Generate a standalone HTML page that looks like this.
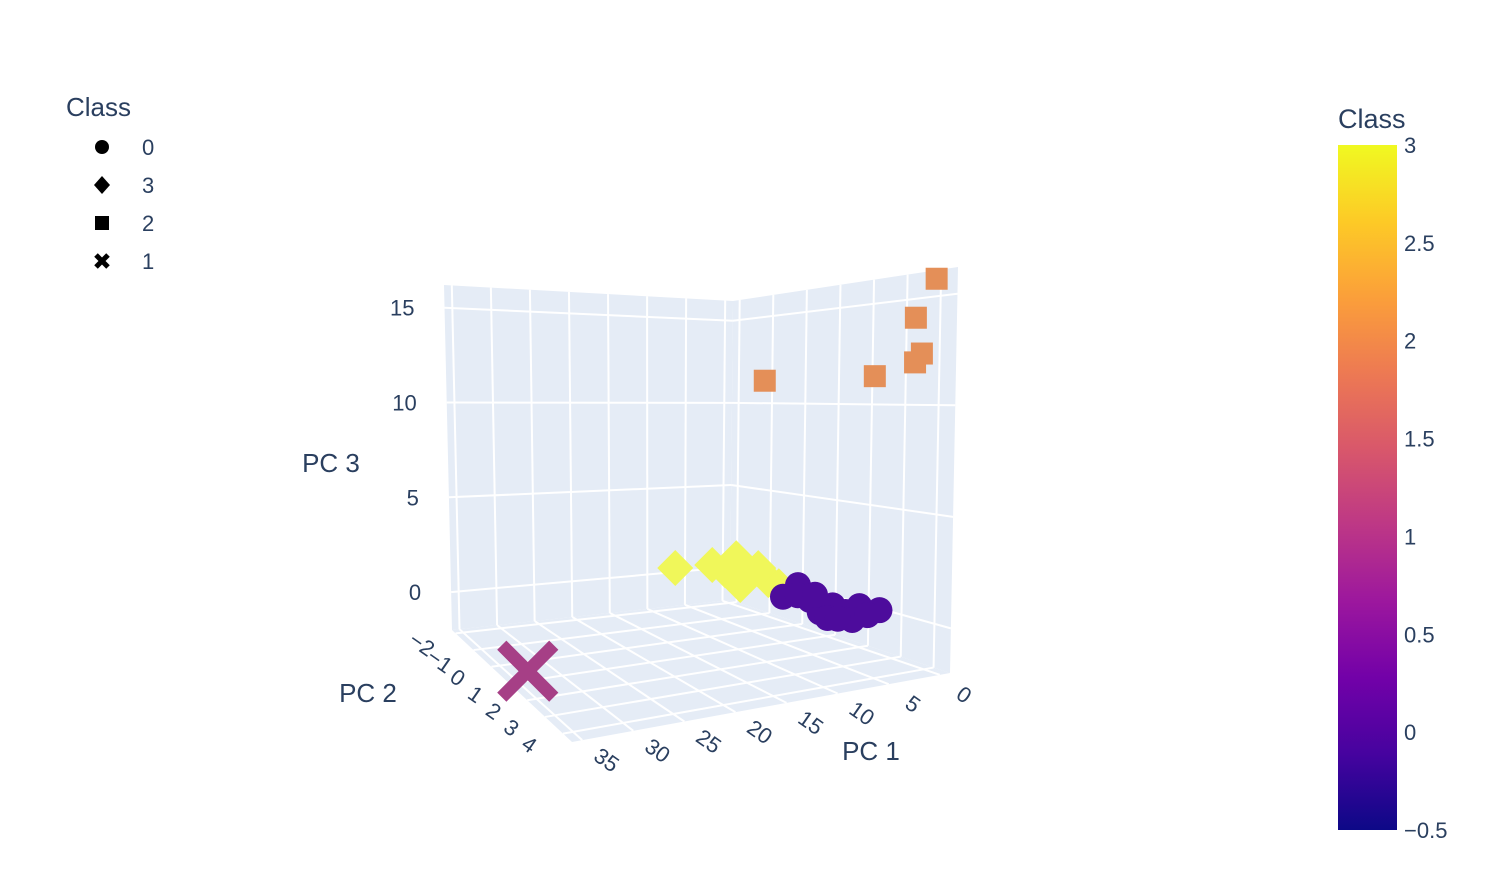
<!DOCTYPE html>
<html><head><meta charset="utf-8"><style>
body{margin:0;background:#fff;font-family:"Liberation Sans",sans-serif;}
svg text{font-family:"Liberation Sans",sans-serif;fill:#2a3f5f;}
</style></head><body>
<svg id="chart" width="1508" height="884" viewBox="0 0 1508 884">
<defs>
<linearGradient id="plasma" x1="0" y1="1" x2="0" y2="0">
<stop offset="0" stop-color="#0d0887"/><stop offset="0.111" stop-color="#46039f"/><stop offset="0.222" stop-color="#7201a8"/><stop offset="0.333" stop-color="#9c179e"/><stop offset="0.444" stop-color="#bd3786"/><stop offset="0.555" stop-color="#d8576b"/><stop offset="0.666" stop-color="#ed7953"/><stop offset="0.777" stop-color="#fb9f3a"/><stop offset="0.888" stop-color="#fdca26"/><stop offset="1" stop-color="#f0f921"/>
</linearGradient>
</defs>
<g id="scene"></g>
<g>
<text x="66" y="116" font-size="26">Class</text>
<g><circle cx="102" cy="147" r="7" fill="#000"/><text x="142" y="155" font-size="22">0</text></g>
<g><path d="M102 176 L110 185 L102 194 L94 185 Z" fill="#000"/><text x="142" y="193" font-size="22">3</text></g>
<g><rect x="95" y="216" width="14" height="14" fill="#000"/><text x="142" y="231" font-size="22">2</text></g>
<g><path d="M96 255 L108 267 M108 255 L96 267" stroke="#000" stroke-width="5"/><text x="142" y="269" font-size="22">1</text></g>
</g>
<g>
<text x="1338" y="128" font-size="27">Class</text>
<rect x="1338" y="145" width="59" height="685" fill="url(#plasma)"/>
<g id="cbticks"></g>
</g>
</svg>
<script>
const xTicks=[0,5,10,15,20,25,30,35];
const yTicks=[-2,-1,0,1,2,3,4];
const zTicks=[0,5,10,15];
const cbTicks=["3","2.5","2","1.5","1","0.5","0","\u22120.5"];
const cbVals=[3,2.5,2,1.5,1,0.5,0,-0.5];
const sqX=[-0.9,-0.9,-0.9,-0.9,-0.9,-0.9];
const sqY=[3.9,3.3,3.5,3.3,2.1,-1.2];
const sqZ=[15.8,14.1,12.4,12.0,11.4,11.3];
const ciX=[-0.9,-0.9,-0.9,-0.9,-0.9,-0.9,-0.9,-0.9,-0.9,-0.9,-0.9,-0.9,-0.9,-0.9];
const ciY=[-0.57,-0.12,0.25,0.55,0.94,1.33,1.75,2.36,0.79,1.54,2.0,-0.12,1.1,0.4];
const ciZ=[-0.82,0.06,-0.56,-1.05,-0.49,-0.64,-0.14,-0.06,-1.23,-0.94,-0.47,-0.49,-1.1,-0.2];
const diX=[6.3,1.4,-0.9,-0.3,-0.9,-0.9,-0.9,-0.9,-0.9];
const diY=[-2.2,-2.2,-2.0,-2.2,-1.78,-1.33,-1.87,-1.02,-0.7];
const diZ=[0.24,0.23,0.65,-0.16,-0.24,0.41,-0.88,-0.12,-0.3];
const crX=[35.5];
const crY=[1.8];
const crZ=[-0.93];

const X0=-1,X1=36,Y0=-2.2,Y1=4.5,Z0=-2,Z1=16.2;
const K={"000":[730,600],"001":[733,301],"010":[950,673],"011":[958,267],"100":[452,630],"101":[444,285],"110":[572,742],"111":[565,262]};
function P(x,y,z){
 const u=(x-X0)/(X1-X0),v=(y-Y0)/(Y1-Y0),w=(z-Z0)/(Z1-Z0);
 let sx=0,sy=0;
 for(const a of [0,1])for(const b of [0,1])for(const c of [0,1]){
  const wt=(a?u:1-u)*(b?v:1-v)*(c?w:1-w);const k=K[""+a+b+c];sx+=wt*k[0];sy+=wt*k[1];}
 return [sx,sy];
}
const NS="http://www.w3.org/2000/svg";
const scene=document.getElementById('scene');
function mk(tag,attrs,parent){const e=document.createElementNS(NS,tag);for(const k in attrs)e.setAttribute(k,attrs[k]);(parent||scene).appendChild(e);return e;}
function poly(pts){return pts.map(p=>p.join(',')).join(' ');}
let e;
e=mk('polygon',{points:poly([P(X0,Y0,Z0),P(X1,Y0,Z0),P(X1,Y0,Z1),P(X0,Y0,Z1)]),fill:'#e5ecf6'});


e=mk('polygon',{points:poly([P(X0,Y0,Z0),P(X0,Y1,Z0),P(X0,Y1,Z1),P(X0,Y0,Z1)]),fill:'#e5ecf6'});


e=mk('polygon',{points:poly([P(X0,Y0,Z0),P(X1,Y0,Z0),P(X1,Y1,Z0),P(X0,Y1,Z0)]),fill:'#e5ecf6'});


function line(a,b,name){const l=mk('line',{x1:a[0],y1:a[1],x2:b[0],y2:b[1],stroke:'#fff','stroke-width':2});
 
 }
xTicks.forEach(x=>{line(P(x,Y0,Z0),P(x,Y0,Z1),'gridline-x');line(P(x,Y0,Z0),P(x,Y1,Z0),'gridline-x-floor');});
yTicks.forEach(y=>{line(P(X0,y,Z0),P(X0,y,Z1),'gridline-y');line(P(X0,y,Z0),P(X1,y,Z0),'gridline-y-floor');});
zTicks.forEach(z=>{line(P(X0,Y0,z),P(X1,Y0,z),'gridline-z');line(P(X0,Y0,z),P(X0,Y1,z),'gridline-z-right');});
function txt(x,y,s,size,anchor,rot,name){const t=mk('text',{x:x,y:y,'font-size':size,'text-anchor':anchor||'middle'});
 if(rot)t.setAttribute('transform','rotate('+rot+' '+x+' '+y+')');t.textContent=s;
 
 return t;}
xTicks.forEach(x=>{const p=P(x,Y1,Z0);txt(p[0]+20,p[1]+26,String(x),22,'middle',35,'x-tick-label');});
yTicks.forEach(y=>{const p=P(X1,y,Z0);txt(p[0]-38,p[1]+17,String(y).replace('-','\u2212'),22,'middle',35,'y-tick-label');});
zTicks.forEach(z=>{const p=P(X1,Y0,z);txt(p[0]-30,p[1]+8,String(z),22,'end',0,'z-tick-label');});
txt(871,760,'PC 1',26,'middle',0,'x-axis-title');
txt(368,702,'PC 2',26,'middle',0,'y-axis-title');
txt(331,472,'PC 3',26,'middle',0,'z-axis-title');
sqX.forEach((x,i)=>{const p=P(x,sqY[i],sqZ[i]);const m=mk('rect',{x:p[0]-11,y:p[1]-11,width:22,height:22,fill:'#e48f58'});
 
 });
diX.forEach((x,i)=>{const p=P(x,diY[i],diZ[i]);const d=18;const m=mk('polygon',{points:poly([[p[0],p[1]-d],[p[0]+d,p[1]],[p[0],p[1]+d],[p[0]-d,p[1]]]),fill:'#f0f75a'});
 
 });
ciX.forEach((x,i)=>{const p=P(x,ciY[i],ciZ[i]);const m=mk('circle',{cx:p[0],cy:p[1],r:13,fill:'#4d0c9c'});
 
 });
crX.forEach((x,i)=>{const p=P(x,crY[i],crZ[i]);const s=26;const m=mk('path',{d:`M${p[0]-s} ${p[1]-s} L${p[0]+s} ${p[1]+s} M${p[0]+s} ${p[1]-s} L${p[0]-s} ${p[1]+s}`,stroke:'#a63f86','stroke-width':13});
 
 });
const cb=document.getElementById('cbticks');
cbVals.forEach((v,i)=>{const y=830-(v+0.5)/3.5*685;const t=mk('text',{x:1404,y:y+8,'font-size':22},cb);t.textContent=cbTicks[i];
 
 });
</script>
</body></html>
